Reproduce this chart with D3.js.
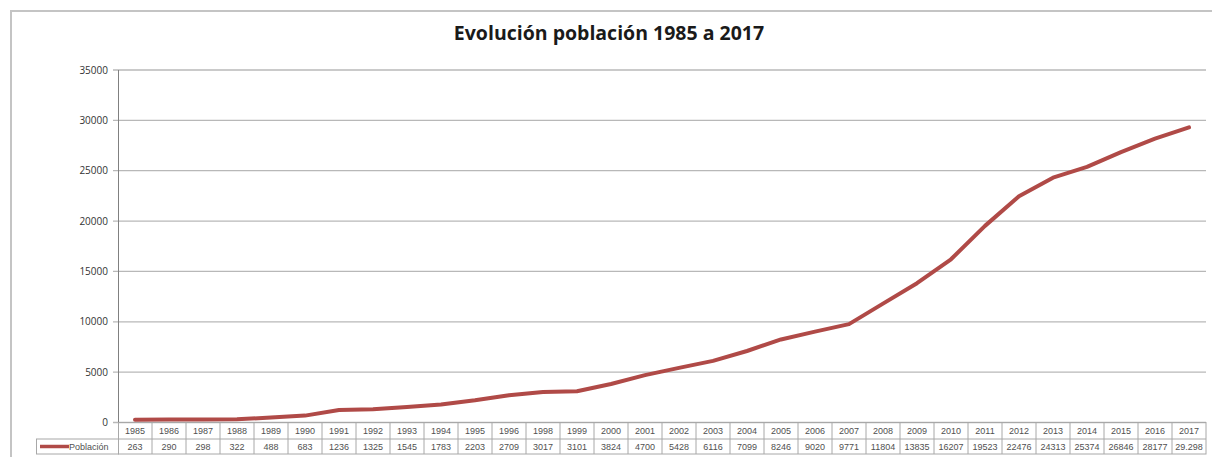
<!DOCTYPE html>
<html>
<head>
<meta charset="utf-8">
<script src="https://cdn.jsdelivr.net/npm/d3@7"></script>
<style>
  body { margin: 0; background: #fff; }
  svg { display: block; }
</style>
</head>
<body>
<div id="chart"></div>
<script>
const years = ["1985","1986","1987","1988","1989","1990","1991","1992","1993","1994","1995","1996","1998","1999","2000","2001","2002","2003","2004","2005","2006","2007","2008","2009","2010","2011","2012","2013","2014","2015","2016","2017"];
const poblacion = [263,290,298,322,488,683,1236,1325,1545,1783,2203,2709,3017,3101,3824,4700,5428,6116,7099,8246,9020,9771,11804,13835,16207,19523,22476,24313,25374,26846,28177,29298];
const cellLabels = ["263","290","298","322","488","683","1236","1325","1545","1783","2203","2709","3017","3101","3824","4700","5428","6116","7099","8246","9020","9771","11804","13835","16207","19523","22476","24313","25374","26846","28177","29.298"];
const yTicks = [0,5000,10000,15000,20000,25000,30000,35000];
const seriesName = "Población";
const title = "Evolución población 1985 a 2017";

const width = 1212, height = 457;
const lineColor = "#b04a47";

const svg = d3.select("#chart").append("svg")
  .attr("width", width)
  .attr("height", height);

// outer frame of the chart
svg.append("path")
  .attr("d", "M11,470 L11,11 L1220,11")
  .attr("fill", "none")
  .attr("stroke", "#c4c4c4")
  .attr("stroke-width", 2);

const x = d3.scaleBand().domain(years).range([118, 1206]);
const y = d3.scaleLinear().domain([0, 35000]).range([422.5, 70]);

// gridlines
svg.append("g")
  .selectAll("line")
  .data(yTicks)
  .enter().append("line")
  .attr("x1", 113)
  .attr("x2", 1206)
  .attr("y1", d => y(d))
  .attr("y2", d => y(d))
  .attr("stroke", "#b8b8b8")
  .attr("stroke-width", 1.3);

// y axis labels
svg.append("g")
  .selectAll("text")
  .data(yTicks)
  .enter().append("text")
  .attr("x", 108)
  .attr("y", d => y(d))
  .attr("dy", "0.35em")
  .attr("text-anchor", "end")
  .style("font-family", "'Open Sans', 'DejaVu Sans', sans-serif")
  .style("font-size", "10px")
  .style("fill", "#333")
  .text(d => d);

// y axis line
svg.append("line")
  .attr("x1", 118.5).attr("x2", 118.5)
  .attr("y1", y(35000)).attr("y2", y(0))
  .attr("stroke", "#808080")
  .attr("stroke-width", 1);

// data table below the plot
const rowTop = y(0), rowMid = 439, rowBottom = 454;
const tbl = svg.append("g")
  .style("font-family", "'Liberation Sans', Arial, sans-serif")
  .style("font-size", "9px")
  .style("fill", "#505050");

tbl.append("rect")
  .attr("x", 118.5).attr("y", rowTop)
  .attr("width", 1206 - 118.5).attr("height", rowBottom - rowTop)
  .attr("fill", "none").attr("stroke", "#a8a8a8");
tbl.append("rect")
  .attr("x", 36.5).attr("y", rowMid)
  .attr("width", 82).attr("height", rowBottom - rowMid)
  .attr("fill", "none").attr("stroke", "#a8a8a8");
tbl.append("line")
  .attr("x1", 118.5).attr("x2", 1206)
  .attr("y1", rowMid).attr("y2", rowMid)
  .attr("stroke", "#a8a8a8");
tbl.selectAll("line.col")
  .data(years.slice(1))
  .enter().append("line")
  .attr("class", "col")
  .attr("x1", d => x(d)).attr("x2", d => x(d))
  .attr("y1", rowTop).attr("y2", rowBottom)
  .attr("stroke", "#a8a8a8");

tbl.selectAll("text.year")
  .data(years)
  .enter().append("text")
  .attr("class", "year")
  .attr("x", d => x(d) + x.bandwidth() / 2)
  .attr("y", (rowTop + rowMid) / 2)
  .attr("dy", "0.35em")
  .attr("text-anchor", "middle")
  .text(d => d);

tbl.selectAll("text.val")
  .data(cellLabels)
  .enter().append("text")
  .attr("class", "val")
  .attr("x", (d, i) => x(years[i]) + x.bandwidth() / 2)
  .attr("y", (rowMid + rowBottom) / 2)
  .attr("dy", "0.35em")
  .attr("text-anchor", "middle")
  .text(d => d);

// legend key in the table
tbl.append("line")
  .attr("x1", 40).attr("x2", 69)
  .attr("y1", 446.5).attr("y2", 446.5)
  .attr("stroke", lineColor)
  .attr("stroke-width", 3.5);
tbl.append("text")
  .attr("x", 69)
  .attr("y", 446.5)
  .attr("dy", "0.35em")
  .text(seriesName);

// the series line
const line = d3.line()
  .x((d, i) => x(years[i]) + x.bandwidth() / 2)
  .y(d => y(d));

svg.append("path")
  .datum(poblacion)
  .attr("d", line)
  .attr("fill", "none")
  .attr("stroke", lineColor)
  .attr("stroke-width", 4)
  .attr("stroke-linejoin", "round")
  .attr("stroke-linecap", "round");

// title
svg.append("text")
  .attr("x", 609)
  .attr("y", 40)
  .attr("text-anchor", "middle")
  .style("font-family", "'Open Sans', 'DejaVu Sans', sans-serif")
  .style("font-weight", "bold")
  .style("font-size", "19.5px")
  .style("fill", "#1a1a1a")
  .text(title);
</script>
</body>
</html>
